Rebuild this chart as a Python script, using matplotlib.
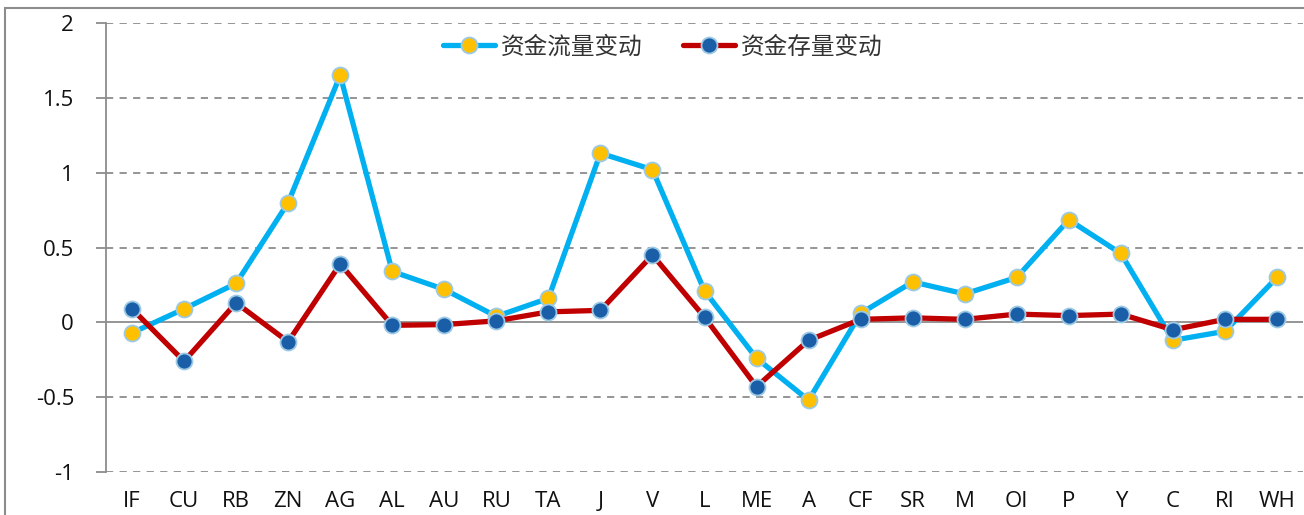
import matplotlib
matplotlib.use("Agg")
import matplotlib.pyplot as plt
from matplotlib.patches import Rectangle

plt.rcParams['font.family'] = ['Open Sans', 'Noto Sans CJK SC', 'DejaVu Sans']

categories = ["IF", "CU", "RB", "ZN", "AG", "AL", "AU", "RU", "TA", "J", "V", "L",
              "ME", "A", "CF", "SR", "M", "OI", "P", "Y", "C", "RI", "WH"]
flow = [-0.07, 0.09, 0.26, 0.80, 1.65, 0.34, 0.22, 0.04, 0.16, 1.13, 1.02, 0.21,
        -0.24, -0.52, 0.06, 0.27, 0.19, 0.30, 0.685, 0.46, -0.12, -0.06, 0.30]
stock = [0.09, -0.26, 0.13, -0.13, 0.39, -0.02, -0.015, 0.01, 0.07, 0.08, 0.45, 0.035,
         -0.43, -0.12, 0.02, 0.03, 0.02, 0.055, 0.045, 0.055, -0.05, 0.02, 0.02]
series_names = ["资金流量变动", "资金存量变动"]
yticks = [-1, -0.5, 0, 0.5, 1, 1.5, 2]
ytick_labels = ["-1", "-0.5", "0", "0.5", "1", "1.5", "2"]

fig = plt.figure(figsize=(13.04, 5.15), dpi=100)
ax = fig.add_axes([106/1304, 1-472/515, (1303-106)/1304, (472-23)/515])

# outer chart border
fig.patches.append(Rectangle((5/1304, -0.1), 1.2, 1-8/515+0.1, transform=fig.transFigure,
                             fill=False, edgecolor='#8c8c8c', linewidth=1.5, zorder=0))

x = list(range(len(categories)))
ax.plot(x, flow, color='#00B0F0', linewidth=3.8, marker='o', markersize=11.5,
        markerfacecolor='#FFC000', markeredgecolor='#9CC9E3', markeredgewidth=1.3,
        label=series_names[0], zorder=3, solid_capstyle='round')
ax.plot(x, stock, color='#C00000', linewidth=3.8, marker='o', markersize=11.5,
        markerfacecolor='#1A5EA8', markeredgecolor='#9CC9E3', markeredgewidth=1.3,
        label=series_names[1], zorder=4, solid_capstyle='round')

ax.set_xlim(-0.5, len(categories) - 0.5)
ax.set_ylim(-1, 2)
ax.set_yticks(yticks)
ax.set_yticklabels(ytick_labels)
ax.set_xticks(x)
ax.set_xticklabels(categories)

for v in yticks:
    if v == 0:
        ax.axhline(0, color='#8c8c8c', linewidth=1.3, zorder=1)
    else:
        ax.axhline(v, color='#8c8c8c', linewidth=1.3, linestyle=(0, (4, 3.5)), zorder=1)

for s in ['top', 'right', 'bottom']:
    ax.spines[s].set_visible(False)
ax.spines['left'].set_color('#8c8c8c')
ax.spines['left'].set_linewidth(1.3)
ax.tick_params(axis='y', length=7, width=1.3, color='#8c8c8c', labelsize=16, pad=16,
               labelcolor='#111111')
ax.tick_params(axis='x', length=0, labelsize=16, pad=14, labelcolor='#111111')

leg = ax.legend(loc='upper center', bbox_to_anchor=(0.465, 1.02), ncol=2, frameon=False,
                handlelength=2.2, columnspacing=1.7, handletextpad=0.25,
                prop={'family': ['Noto Sans CJK SC'], 'size': 17})
for t in leg.get_texts():
    t.set_color('#333333')

fig.savefig("out.png", dpi=100)
